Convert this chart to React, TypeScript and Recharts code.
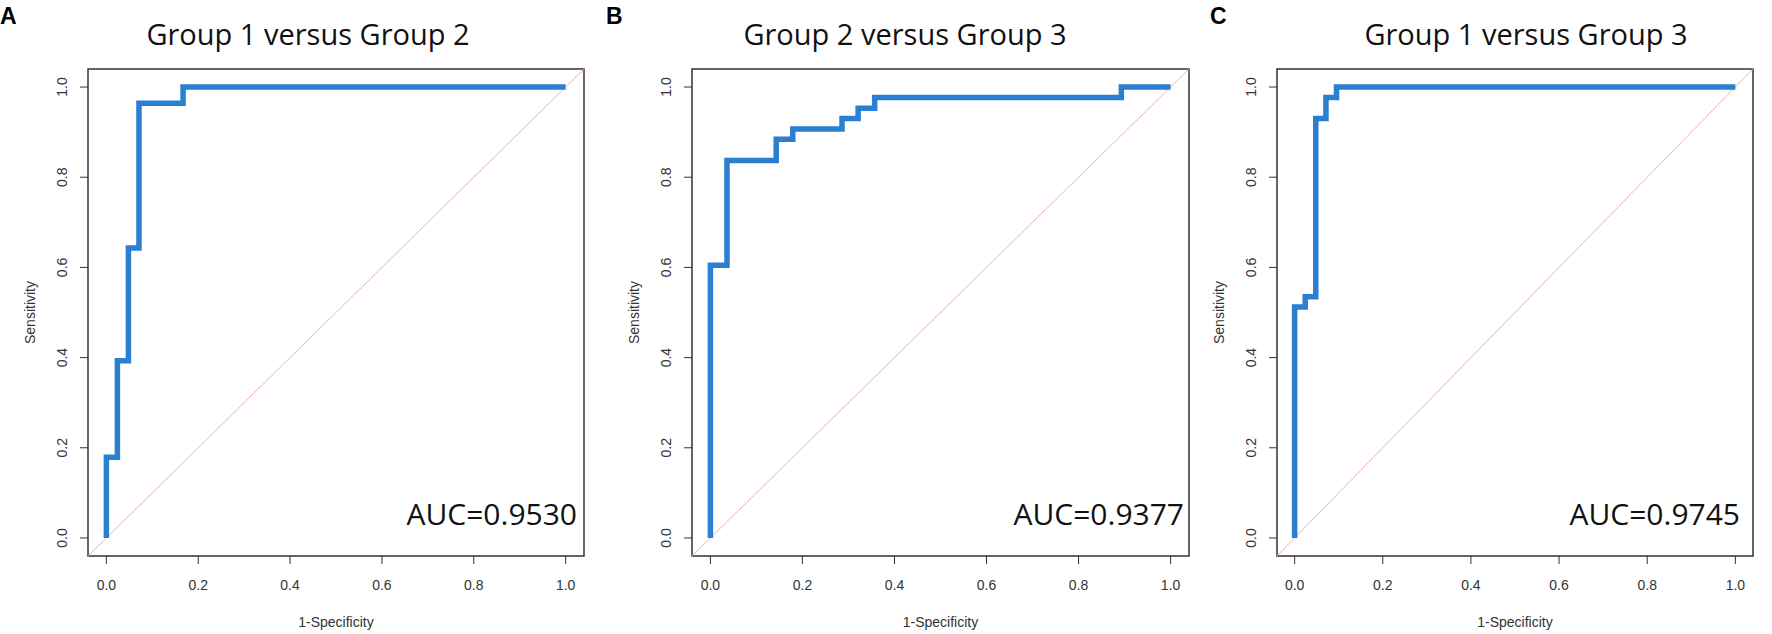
import { LineChart, Line, XAxis, YAxis, ReferenceArea, ReferenceLine } from 'recharts';

// ROC coordinates: 1-specificity (fpr) and sensitivity (tpr)
const fprA = [0, 0, 0.024, 0.024, 0.048, 0.048, 0.071, 0.071, 0.167, 0.167, 1];
const tprA = [0, 0.179, 0.179, 0.393, 0.393, 0.643, 0.643, 0.964, 0.964, 1, 1];

const fprB = [0, 0, 0.036, 0.036, 0.143, 0.143, 0.179, 0.179, 0.286, 0.286, 0.321, 0.321, 0.357, 0.357, 0.893, 0.893, 1];
const tprB = [0, 0.605, 0.605, 0.837, 0.837, 0.884, 0.884, 0.907, 0.907, 0.93, 0.93, 0.953, 0.953, 0.977, 0.977, 1, 1];

const fprC = [0, 0, 0.024, 0.024, 0.048, 0.048, 0.071, 0.071, 0.095, 0.095, 1];
const tprC = [0, 0.512, 0.512, 0.535, 0.535, 0.93, 0.93, 0.977, 0.977, 1, 1];

const panelLetters = ['A', 'B', 'C'];
const titles = ['Group 1 versus Group 2', 'Group 2 versus Group 3', 'Group 1 versus Group 3'];
const aucLabels = ['AUC=0.9530', 'AUC=0.9377', 'AUC=0.9745'];
const axisTicks = [0, 0.2, 0.4, 0.6, 0.8, 1];
const xLabel = '1-Specificity';
const yLabel = 'Sensitivity';

const W = 1772;
const H = 634;
const BOX_TOP = 69;
const BOX_BOTTOM = 556;
const Y_AXIS_W = 60;
const X_AXIS_H = 40;
const DOMAIN: [number, number] = [-0.04, 1.04]; // R pads axis range by 4%

const layout = [
  { left: 0, width: 600, boxLeft: 88, boxRight: 584, letterX: 0, titleX: 308, aucX: 577 },
  { left: 600, width: 600, boxLeft: 692, boxRight: 1189, letterX: 606, titleX: 905, aucX: 1184 },
  { left: 1200, width: 572, boxLeft: 1277, boxRight: 1753, letterX: 1210, titleX: 1526, aucX: 1740 },
];

const toPoints = (fpr: number[], tpr: number[]) => fpr.map((x, i) => ({ x, y: tpr[i] }));
const curves = [toPoints(fprA, tprA), toPoints(fprB, tprB), toPoints(fprC, tprC)];

const tickFont = { fontFamily: 'Liberation Sans, Arial, sans-serif', fontSize: 14, fill: '#333' };

function RotatedTick({ x, y, payload }: any) {
  return (
    <text
      x={x}
      y={y}
      transform={`rotate(-90 ${x} ${y})`}
      textAnchor="middle"
      dy="0.36em"
      {...tickFont}
    >
      {Number(payload.value).toFixed(1)}
    </text>
  );
}

function RocPanel({ index }: { index: number }) {
  const l = layout[index];
  const margin = {
    top: BOX_TOP,
    left: l.boxLeft - l.left - Y_AXIS_W,
    right: l.left + l.width - l.boxRight,
    bottom: H - BOX_BOTTOM - X_AXIS_H,
  };
  return (
    <div style={{ position: 'absolute', left: l.left, top: 0 }}>
      <LineChart width={l.width} height={H} data={curves[index]} margin={margin}>
        <XAxis
          type="number"
          dataKey="x"
          domain={DOMAIN}
          ticks={axisTicks}
          allowDataOverflow
          axisLine={false}
          tickSize={8}
          tickMargin={16}
          height={X_AXIS_H}
          tick={tickFont}
          tickLine={{ stroke: '#333' }}
          tickFormatter={(v: number) => v.toFixed(1)}
        />
        <YAxis
          type="number"
          domain={DOMAIN}
          ticks={axisTicks}
          allowDataOverflow
          axisLine={false}
          tickSize={8}
          tickMargin={18}
          width={Y_AXIS_W}
          tick={<RotatedTick />}
          tickLine={{ stroke: '#333' }}
        />
        <ReferenceLine
          segment={[{ x: DOMAIN[0], y: DOMAIN[0] }, { x: DOMAIN[1], y: DOMAIN[1] }]}
          stroke="#ebb3b8"
          strokeWidth={1}
          ifOverflow="visible"
        />
        <ReferenceArea
          x1={DOMAIN[0]}
          x2={DOMAIN[1]}
          y1={DOMAIN[0]}
          y2={DOMAIN[1]}
          fill="none"
          fillOpacity={0}
          stroke="#333"
          strokeWidth={1.5}
          ifOverflow="visible"
        />
        <Line
          type="linear"
          dataKey="y"
          stroke="#2a7fd0"
          strokeWidth={5.5}
          dot={false}
          activeDot={false}
          isAnimationActive={false}
        />
      </LineChart>
    </div>
  );
}

export default function App() {
  return (
    <div style={{ position: 'absolute', left: 0, top: 0, width: W, height: H, background: '#fff' }}>
      {layout.map((_, i) => (
        <RocPanel key={i} index={i} />
      ))}
      <svg width={W} height={H} style={{ position: 'absolute', left: 0, top: 0, pointerEvents: 'none' }}>
        {layout.map((l, i) => {
          const boxMidX = (l.boxLeft + l.boxRight) / 2;
          const boxMidY = (BOX_TOP + BOX_BOTTOM) / 2;
          const yLabX = l.boxLeft - 53;
          return (
            <g key={i}>
              <text x={l.letterX} y={24} fontFamily="Liberation Sans, Arial, sans-serif" fontWeight="bold" fontSize={23} fill="#000">
                {panelLetters[i]}
              </text>
              <text x={l.titleX} y={45} textAnchor="middle" fontFamily="Open Sans, sans-serif" fontSize={29} fill="#111">
                {titles[i]}
              </text>
              <text x={l.aucX} y={525} textAnchor="end" fontFamily="Open Sans, sans-serif" fontSize={30} fill="#111">
                {aucLabels[i]}
              </text>
              <text x={boxMidX} y={627} textAnchor="middle" {...tickFont}>
                {xLabel}
              </text>
              <text
                x={yLabX}
                y={boxMidY}
                transform={`rotate(-90 ${yLabX} ${boxMidY})`}
                textAnchor="middle"
                {...tickFont}
              >
                {yLabel}
              </text>
            </g>
          );
        })}
      </svg>
    </div>
  );
}
